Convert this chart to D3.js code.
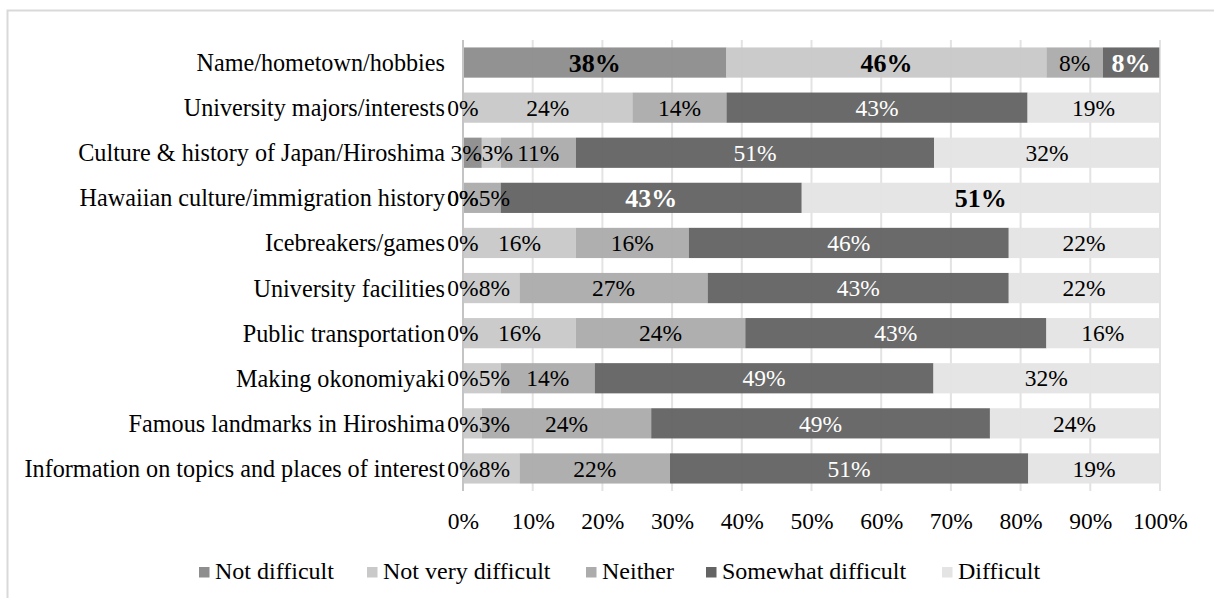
<!DOCTYPE html>
<html>
<head>
<meta charset="utf-8">
<script src="https://cdn.jsdelivr.net/npm/d3@7"></script>
<style>
  html, body { margin: 0; padding: 0; background: #fff; }
  svg { display: block; }
  svg text { font-family: "Liberation Serif", "Times New Roman", serif; }
</style>
</head>
<body>
<svg id="chart" width="1214" height="598"></svg>
<script>
// Survey topics (top to bottom)
const topics = [
  "Name/hometown/hobbies",
  "University majors/interests",
  "Culture & history of Japan/Hiroshima",
  "Hawaiian culture/immigration history",
  "Icebreakers/games",
  "University facilities",
  "Public transportation",
  "Making okonomiyaki",
  "Famous landmarks in Hiroshima",
  "Information on topics and places of interest"
];

// Response levels
const levels = ["Not difficult", "Not very difficult", "Neither", "Somewhat difficult", "Difficult"];

// Share of respondents (%) per topic, one array per response level
const notDifficult      = [37.8, 0,    2.7,  0,    0,    0,    0,    0,    0,    0];
const notVeryDifficult  = [45.9, 24.3, 2.7,  0,    16.2, 8.1,  16.2, 5.4,  2.7,  8.1];
const neither           = [8.1,  13.5, 10.8, 5.4,  16.2, 27.0, 24.3, 13.5, 24.3, 21.6];
const somewhatDifficult = [8.1,  43.2, 51.4, 43.2, 45.9, 43.2, 43.2, 48.6, 48.6, 51.4];
const difficult         = [null, 18.9, 32.4, 51.4, 21.6, 21.6, 16.2, 32.4, 24.3, 18.9];

const seriesValues = [notDifficult, notVeryDifficult, neither, somewhatDifficult, difficult];

// Axis ticks
const tickValues = [0, 10, 20, 30, 40, 50, 60, 70, 80, 90, 100];

// Styling
const fills = ["#8e8e8e", "#c9c9c9", "#acacac", "#646464", "#e4e4e4"];
const labelColors = ["#000", "#000", "#000", "#fff", "#000"];
const boldLabels = new Set(["0-0", "0-1", "0-3", "3-3", "3-4"]); // "row-series"
const catSize = 24.2;
const fontSize = 23.5;
const boldSize = 26;
const legendSize = 24;

const svg = d3.select("#chart");

// Outer frame
svg.append("rect")
  .attr("x", 7.5).attr("y", 10.5)
  .attr("width", 1230).attr("height", 620)
  .attr("fill", "none").attr("stroke", "#d9d9d9").attr("stroke-width", 2);

const x = d3.scaleLinear().domain([0, 100]).range([463, 1160]);
const y = d3.scaleBand().domain(topics).range([40, 491])
  .paddingInner(0.33).paddingOuter(0.165);

// Vertical gridlines
svg.append("g")
  .selectAll("line")
  .data(tickValues)
  .join("line")
  .attr("x1", d => x(d)).attr("x2", d => x(d))
  .attr("y1", 40).attr("y2", 491)
  .attr("stroke", "#e3e3e3").attr("stroke-width", 2);

// Stacked segments
const rows = topics.map((t, i) => {
  let acc = 0;
  return levels.map((lv, s) => {
    const v = seriesValues[s][i];
    const x0 = acc;
    acc += v || 0;
    return { topic: t, row: i, series: s, value: v, x0, x1: acc };
  });
});
const segs = rows.flat();

svg.append("g")
  .selectAll("rect")
  .data(segs.filter(d => d.value))
  .join("rect")
  .attr("x", d => x(d.x0))
  .attr("y", d => y(d.topic))
  .attr("width", d => x(d.x1) - x(d.x0))
  .attr("height", y.bandwidth())
  .attr("fill", d => fills[d.series])
  .attr("fill-opacity", 0.96);

// Category axis line at 0%
svg.append("line")
  .attr("x1", x(0)).attr("x2", x(0))
  .attr("y1", 40).attr("y2", 491)
  .attr("stroke", "#c4c4c4").attr("stroke-width", 2);

// Category labels
svg.append("g")
  .selectAll("text")
  .data(topics)
  .join("text")
  .attr("x", x(0) - 18)
  .attr("y", d => y(d) + y.bandwidth() / 2)
  .attr("dy", "0.35em")
  .attr("text-anchor", "end")
  .attr("font-size", catSize)
  .attr("fill", "#000")
  .text(d => d);

// Segment value labels
const pct = d3.format(".0f");
const isBold = d => boldLabels.has(d.row + "-" + d.series);
const valueLabels = svg.append("g")
  .selectAll("text")
  .data(segs.filter(d => d.value !== null))
  .join("text")
  .attr("y", d => y(d.topic) + y.bandwidth() / 2)
  .attr("dy", "0.35em")
  .attr("text-anchor", "middle")
  .attr("font-size", d => isBold(d) ? boldSize : fontSize)
  .attr("font-weight", d => isBold(d) ? "bold" : "normal")
  .attr("fill", d => labelColors[d.series])
  .text(d => pct(d.value) + "%");

// Place labels at segment centres, then ease apart labels of thin
// segments so they sit side by side; zero labels stay on the axis.
valueLabels.each(function (d) {
  d.cx = x((d.x0 + d.x1) / 2);
  d.w = this.getComputedTextLength();
});
d3.groups(valueLabels.data(), d => d.row).forEach(([, list]) => {
  for (let i = 1; i < list.length; i++) {
    const a = list[i - 1], b = list[i];
    if (b.value === 0) continue;
    const overlap = (a.cx + a.w / 2) - (b.cx - b.w / 2);
    if (overlap > 0) {
      if (a.value === 0) {
        b.cx += overlap;
      } else {
        a.cx -= overlap / 2;
        b.cx += overlap / 2;
      }
    }
  }
});
valueLabels.attr("x", d => d.cx);

// Percentage axis
const axis = d3.axisBottom(x)
  .tickValues(tickValues)
  .tickSize(0)
  .tickPadding(0)
  .tickFormat(d => d + "%");
const gx = svg.append("g").attr("transform", "translate(0,512)").call(axis);
gx.attr("font-family", null);
gx.select(".domain").remove();
gx.selectAll("text")
  .attr("font-size", fontSize)
  .attr("fill", "#000");

// Legend
const legendX = [199, 367, 586, 706, 942];
const legend = svg.append("g").attr("transform", "translate(0,571)");
const li = legend.selectAll("g").data(levels).join("g")
  .attr("transform", (d, i) => `translate(${legendX[i]},0)`);
li.append("rect")
  .attr("x", 0).attr("y", -4).attr("width", 10.5).attr("height", 10.5)
  .attr("fill", (d, i) => fills[i]);
li.append("text")
  .attr("x", 16).attr("dy", "0.35em")
  .attr("font-size", legendSize)
  .attr("fill", "#000")
  .text(d => d);
</script>
</body>
</html>
